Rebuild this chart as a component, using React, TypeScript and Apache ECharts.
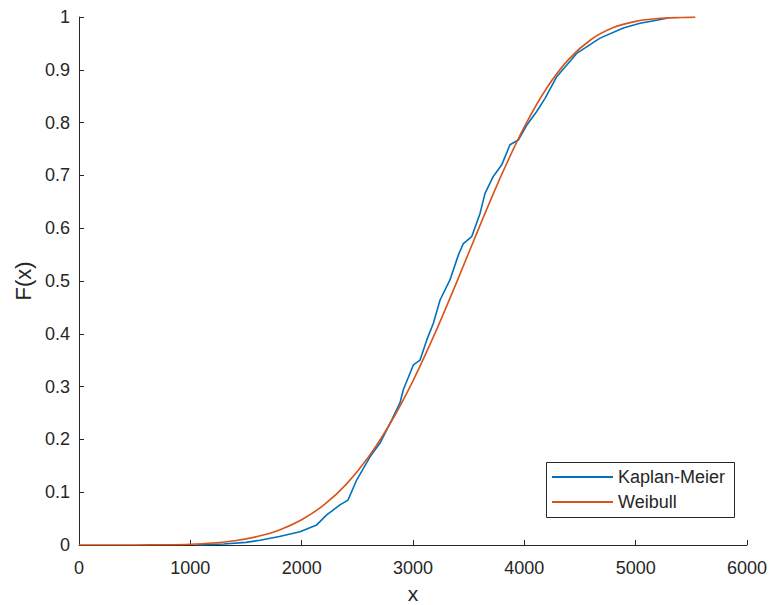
import React, { useEffect, useRef } from "react";
import * as echarts from "echarts";

const xTicks = [0, 1000, 2000, 3000, 4000, 5000, 6000];
const yTicks = [0, 0.1, 0.2, 0.3, 0.4, 0.5, 0.6, 0.7, 0.8, 0.9, 1];

const seriesNames = ["Kaplan-Meier", "Weibull"];

const kmX = [1050, 1300, 1500, 1626, 1800, 1985, 2135, 2225, 2344, 2416, 2494, 2614, 2704, 2809, 2883, 2913, 3003, 3063, 3123, 3183, 3243, 3332, 3407, 3452, 3527, 3602, 3647, 3721, 3797, 3871, 3946, 4021, 4111, 4186, 4291, 4470, 4680, 4889, 5039, 5189, 5290];
const kmF = [0, 0.002, 0.005, 0.009, 0.016, 0.025, 0.038, 0.057, 0.076, 0.085, 0.123, 0.167, 0.193, 0.237, 0.269, 0.294, 0.341, 0.35, 0.388, 0.42, 0.464, 0.502, 0.549, 0.571, 0.584, 0.628, 0.666, 0.698, 0.72, 0.758, 0.767, 0.795, 0.821, 0.846, 0.887, 0.931, 0.96, 0.979, 0.988, 0.994, 0.998];

const wbX = [0, 500, 800, 1000, 1200, 1400, 1600, 1800, 2000, 2200, 2400, 2600, 2800, 3000, 3200, 3400, 3600, 3800, 4000, 4200, 4400, 4600, 4800, 5000, 5200, 5400, 5535];
const wbF = [0, 0.00005, 0.0005, 0.0015, 0.0038, 0.0082, 0.016, 0.0286, 0.0479, 0.076, 0.1149, 0.1666, 0.232, 0.311, 0.4021, 0.5016, 0.6044, 0.7033, 0.7919, 0.8651, 0.9202, 0.9574, 0.9799, 0.9917, 0.9971, 0.9991, 0.9997];

const FONT = "'Liberation Sans', Arial, Helvetica, sans-serif";
const TXT = "#262626";

export default function App() {
  const ref = useRef<HTMLDivElement>(null);
  useEffect(() => {
    if (!ref.current) return;
    const chart = echarts.init(ref.current, undefined, { renderer: "svg" });
    const axisCommon = {
      axisLine: { show: true, lineStyle: { color: TXT, width: 1 } },
      axisTick: { show: true, inside: true, length: 5, lineStyle: { color: TXT } },
      splitLine: { show: false },
    };
    chart.setOption({
      animation: false,
      backgroundColor: "#ffffff",
      textStyle: { fontFamily: FONT },
      grid: {
        left: 79,
        right: 23,
        top: 17,
        bottom: 60,
        containLabel: false,
        outerBoundsMode: "none",
      },
      xAxis: {
        type: "value",
        min: xTicks[0],
        max: xTicks[xTicks.length - 1],
        interval: 1000,
        name: "x",
        nameLocation: "middle",
        nameGap: 38,
        nameTextStyle: { color: TXT, fontSize: 21, lineHeight: 21, fontFamily: FONT },
        ...axisCommon,
        axisLabel: {
          color: TXT,
          fontSize: 18,
          fontFamily: FONT,
          margin: 14,
          formatter: (v: number) => String(v),
        },
      },
      yAxis: {
        type: "value",
        min: yTicks[0],
        max: yTicks[yTicks.length - 1],
        interval: 0.1,
        name: "F(x)",
        nameLocation: "middle",
        nameGap: 39,
        nameTextStyle: { color: TXT, fontSize: 22, fontFamily: FONT },
        ...axisCommon,
        axisLabel: {
          color: TXT,
          fontSize: 18,
          fontFamily: FONT,
          margin: 9,
          formatter: (v: number) => String(Math.round(v * 10) / 10),
        },
      },
      legend: {
        show: true,
        orient: "vertical",
        left: 552,
        top: 468,
        padding: 0,
        itemGap: 7,
        itemWidth: 61,
        itemHeight: 2,
        icon: "rect",
        z: 50,
        textStyle: { color: TXT, fontSize: 18, fontFamily: FONT },
        data: seriesNames,
      },
      graphic: [
        {
          type: "rect",
          shape: { x: 546.5, y: 462.5, width: 188, height: 55 },
          style: { fill: "#ffffff", stroke: TXT, lineWidth: 1 },
          z: 5,
        },
      ],
      series: [
        {
          name: seriesNames[0],
          type: "line",
          data: kmX.map((x, i) => [x, kmF[i]]),
          showSymbol: false,
          symbol: "none",
          lineStyle: { color: "#0072BD", width: 1.6 },
          itemStyle: { color: "#0072BD" },
          z: 2,
        },
        {
          name: seriesNames[1],
          type: "line",
          data: wbX.map((x, i) => [x, wbF[i]]),
          showSymbol: false,
          symbol: "none",
          smooth: 0.3,
          lineStyle: { color: "#D95319", width: 1.6 },
          itemStyle: { color: "#D95319" },
          z: 3,
        },
      ],
    });
    return () => chart.dispose();
  }, []);
  return (
    <div
      ref={ref}
      style={{ position: "fixed", left: 0, top: 0, width: 770, height: 605, background: "#fff" }}
    />
  );
}
